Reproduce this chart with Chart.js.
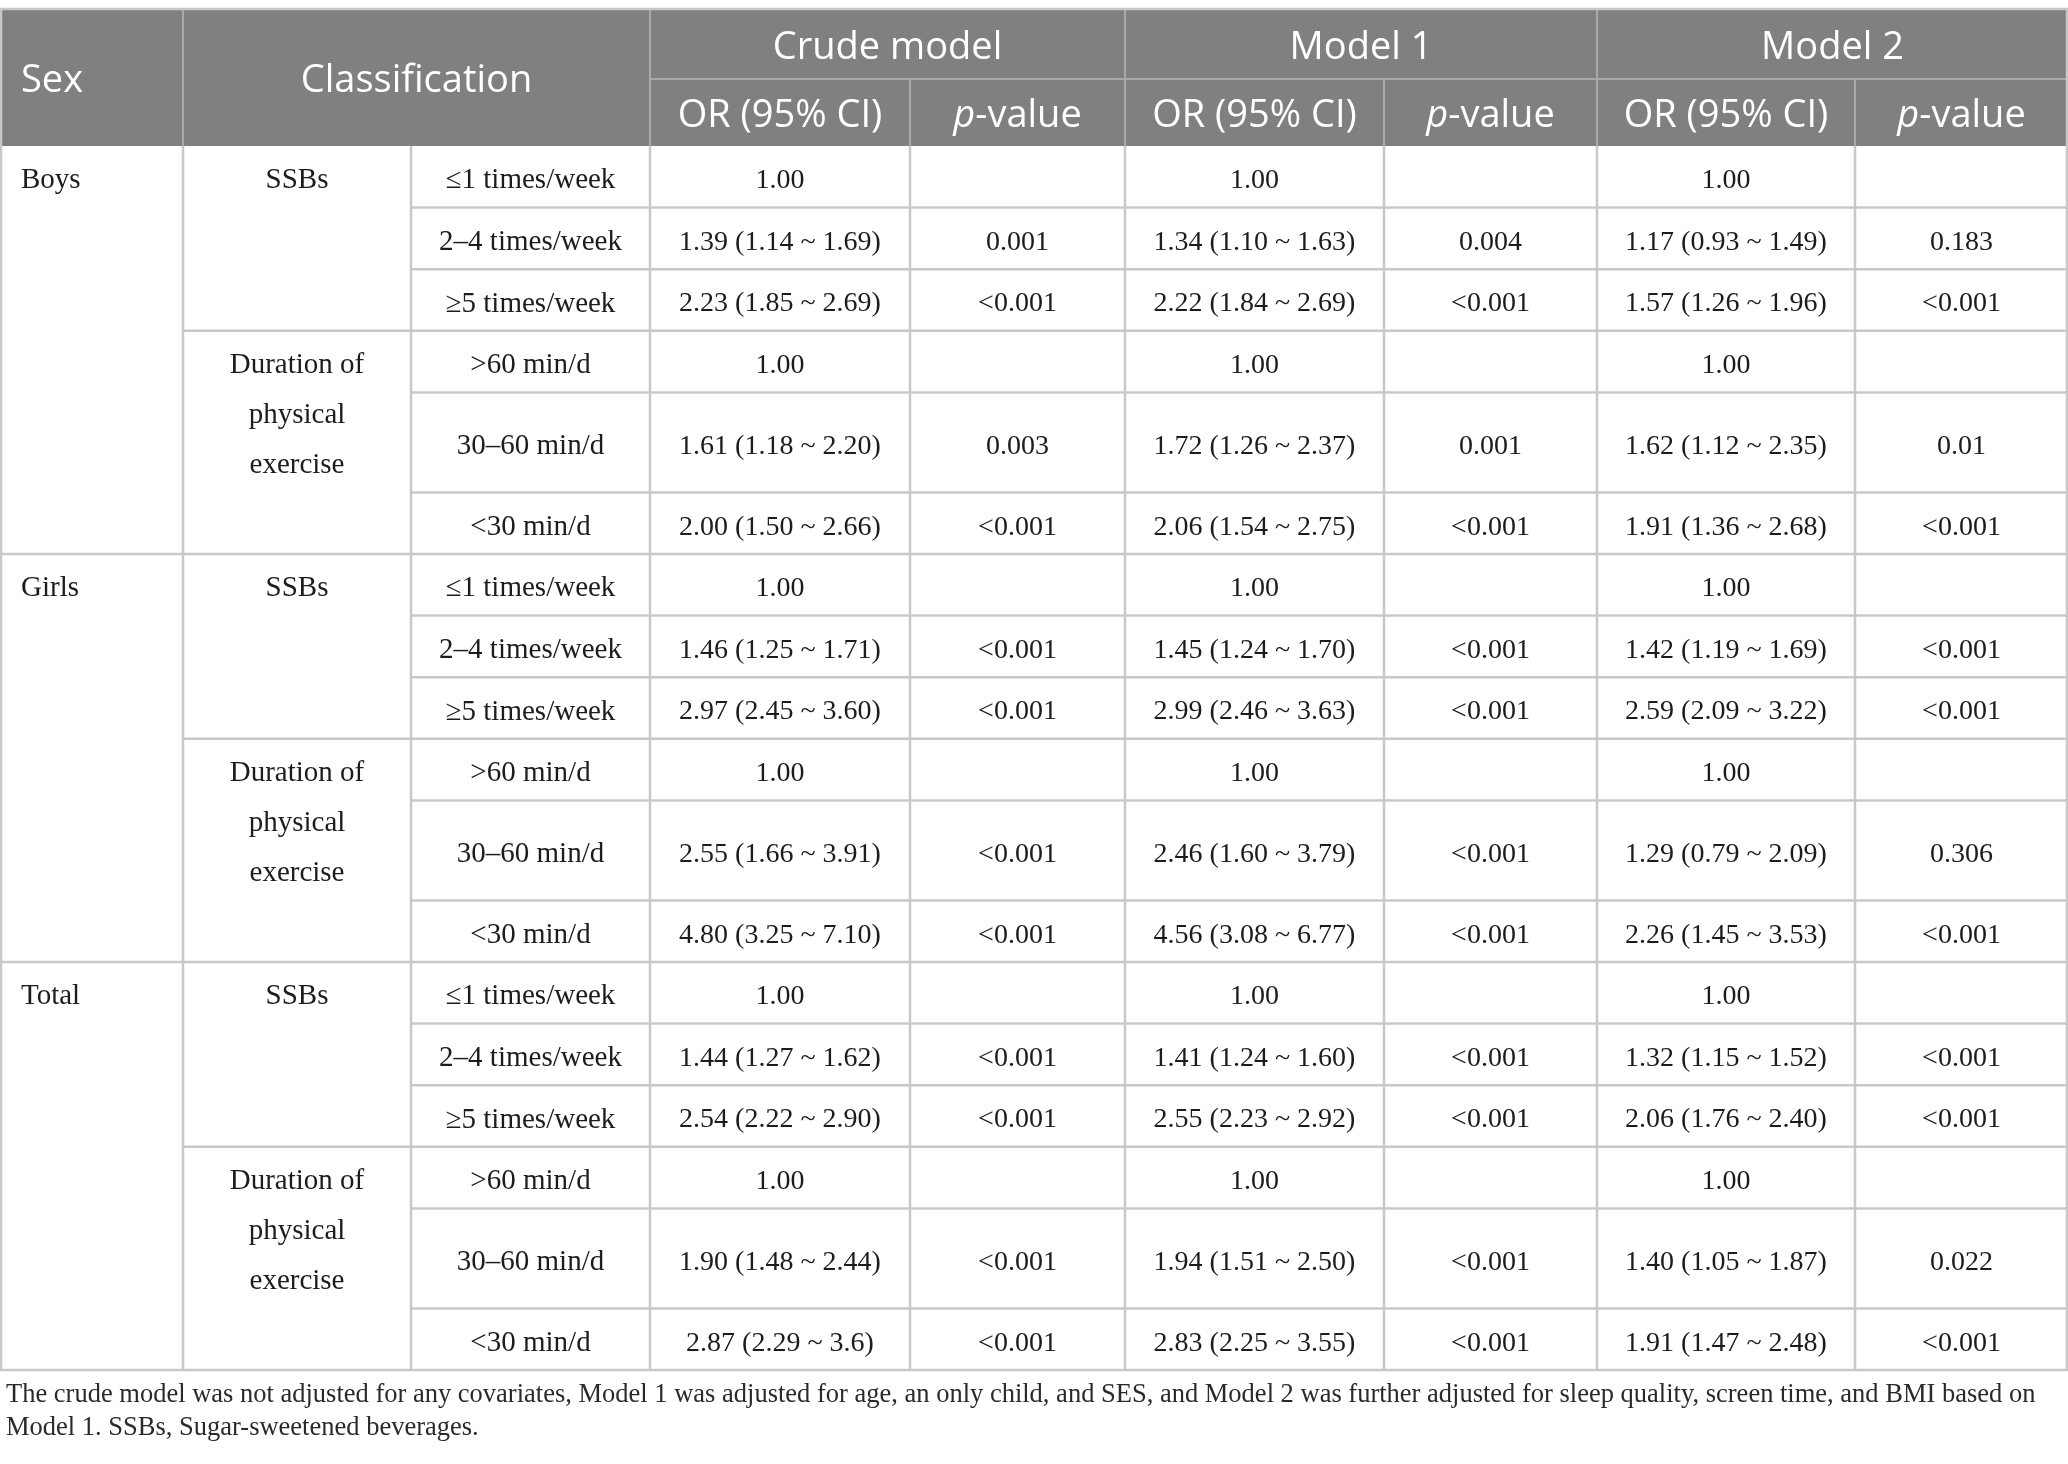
<!DOCTYPE html>
<html>
<head>
<meta charset="utf-8">
<script src="https://cdn.jsdelivr.net/npm/chart.js@4.4.1/dist/chart.umd.min.js"></script>
<style>
  html, body { margin: 0; padding: 0; background: #ffffff; }
  canvas { display: block; }
</style>
</head>
<body>
<canvas id="tableChart" width="2068" height="1464"></canvas>
<script>
// ---- data ----
const sexGroups = ["Boys", "Girls", "Total"];
const factorLabels = [["SSBs"], ["Duration of", "physical", "exercise"]];
const ssbLevels = ["≤1 times/week", "2–4 times/week", "≥5 times/week"];
const exerciseLevels = [">60 min/d", "30–60 min/d", "<30 min/d"];
const modelNames = ["Crude model", "Model 1", "Model 2"];

// one entry per body row (Boys x6, Girls x6, Total x6)
const crudeOR = [
  "1.00", "1.39 (1.14 ~ 1.69)", "2.23 (1.85 ~ 2.69)", "1.00", "1.61 (1.18 ~ 2.20)", "2.00 (1.50 ~ 2.66)",
  "1.00", "1.46 (1.25 ~ 1.71)", "2.97 (2.45 ~ 3.60)", "1.00", "2.55 (1.66 ~ 3.91)", "4.80 (3.25 ~ 7.10)",
  "1.00", "1.44 (1.27 ~ 1.62)", "2.54 (2.22 ~ 2.90)", "1.00", "1.90 (1.48 ~ 2.44)", "2.87 (2.29 ~ 3.6)"
];
const crudeP = [
  "", "0.001", "<0.001", "", "0.003", "<0.001",
  "", "<0.001", "<0.001", "", "<0.001", "<0.001",
  "", "<0.001", "<0.001", "", "<0.001", "<0.001"
];
const model1OR = [
  "1.00", "1.34 (1.10 ~ 1.63)", "2.22 (1.84 ~ 2.69)", "1.00", "1.72 (1.26 ~ 2.37)", "2.06 (1.54 ~ 2.75)",
  "1.00", "1.45 (1.24 ~ 1.70)", "2.99 (2.46 ~ 3.63)", "1.00", "2.46 (1.60 ~ 3.79)", "4.56 (3.08 ~ 6.77)",
  "1.00", "1.41 (1.24 ~ 1.60)", "2.55 (2.23 ~ 2.92)", "1.00", "1.94 (1.51 ~ 2.50)", "2.83 (2.25 ~ 3.55)"
];
const model1P = [
  "", "0.004", "<0.001", "", "0.001", "<0.001",
  "", "<0.001", "<0.001", "", "<0.001", "<0.001",
  "", "<0.001", "<0.001", "", "<0.001", "<0.001"
];
const model2OR = [
  "1.00", "1.17 (0.93 ~ 1.49)", "1.57 (1.26 ~ 1.96)", "1.00", "1.62 (1.12 ~ 2.35)", "1.91 (1.36 ~ 2.68)",
  "1.00", "1.42 (1.19 ~ 1.69)", "2.59 (2.09 ~ 3.22)", "1.00", "1.29 (0.79 ~ 2.09)", "2.26 (1.45 ~ 3.53)",
  "1.00", "1.32 (1.15 ~ 1.52)", "2.06 (1.76 ~ 2.40)", "1.00", "1.40 (1.05 ~ 1.87)", "1.91 (1.47 ~ 2.48)"
];
const model2P = [
  "", "0.183", "<0.001", "", "0.01", "<0.001",
  "", "<0.001", "<0.001", "", "0.306", "<0.001",
  "", "<0.001", "<0.001", "", "0.022", "<0.001"
];
const footnote = [
  "The crude model was not adjusted for any covariates, Model 1 was adjusted for age, an only child, and SES, and Model 2 was further adjusted for sleep quality, screen time, and BMI based on",
  "Model 1. SSBs, Sugar-sweetened beverages."
];

// ---- layout (chart units == pixels) ----
const W = 2068, H = 1464;
const COLS = [0, 183, 411, 650, 910, 1125, 1384, 1597, 1855, 2068];
const HEAD_TOP = 9, HEAD_MID = 79, HEAD_BOTTOM = 146;
const ROW_H = 61.6, TALL_H = 100, LINE_GAP = 50;
const HEAD_BG = "#7f807f", HEAD_LINE = "#a8a8a8", GRID = "#c8c8c8";
const TEXT = "#1c1c1c";
const HEAD_FONT = "38px 'Open Sans'";
const LABEL_FONT = "29px 'Liberation Serif'";
const VALUE_FONT = "28px 'Liberation Serif'";
const NOTE_FONT = "26.5px 'Liberation Serif'";
const HEAD_DY = 4, BODY_DY = 4;

// build row tops from the groups/levels
function buildRows() {
  let rows = [];
  let y = HEAD_BOTTOM;
  for (let g = 0; g < sexGroups.length; g++) {
    for (let f = 0; f < factorLabels.length; f++) {
      let levels = f === 0 ? ssbLevels : exerciseLevels;
      for (let l = 0; l < levels.length; l++) {
        let h = (f === 1 && l === 1) ? TALL_H : ROW_H;
        rows.push({ g: g, f: f, l: l, label: levels[l], top: y, bottom: y + h });
        y += h;
      }
    }
  }
  return rows;
}

const tablePlugin = {
  id: "tableDraw",
  afterDraw(chart) {
    const ctx = chart.ctx;
    const xs = chart.scales.x, ys = chart.scales.y;
    const px = v => xs.getPixelForValue(v);
    const py = v => ys.getPixelForValue(v);
    const rows = buildRows();
    const tableBottom = rows[rows.length - 1].bottom;

    function line(x1, y1, x2, y2, color, w) {
      ctx.strokeStyle = color;
      ctx.lineWidth = w;
      ctx.beginPath();
      ctx.moveTo(px(x1), py(y1));
      ctx.lineTo(px(x2), py(y2));
      ctx.stroke();
    }
    function text(str, x, y, font, color, align) {
      ctx.font = font;
      ctx.fillStyle = color;
      ctx.textAlign = align || "center";
      ctx.textBaseline = "middle";
      ctx.fillText(str, px(x), py(y));
    }
    function mid(a, b) { return (a + b) / 2; }

    ctx.save();

    // header background
    ctx.fillStyle = HEAD_BG;
    ctx.fillRect(px(0), py(HEAD_TOP), px(W) - px(0), py(HEAD_BOTTOM) - py(HEAD_TOP));

    // header lines
    [1, 3, 5, 7].forEach(c => line(COLS[c], HEAD_TOP, COLS[c], HEAD_BOTTOM, HEAD_LINE, 2));
    [4, 6, 8].forEach(c => line(COLS[c], HEAD_MID, COLS[c], HEAD_BOTTOM, HEAD_LINE, 2));
    line(COLS[3], HEAD_MID, W, HEAD_MID, HEAD_LINE, 2);

    // header text
    let hAll = mid(HEAD_TOP, HEAD_BOTTOM) + HEAD_DY;
    let hTop = mid(HEAD_TOP, HEAD_MID) + HEAD_DY;
    let hSub = mid(HEAD_MID, HEAD_BOTTOM) + HEAD_DY;
    text("Sex", 21, hAll, HEAD_FONT, "#ffffff", "left");
    text("Classification", mid(COLS[1], COLS[3]), hAll, HEAD_FONT, "#ffffff");
    for (let m = 0; m < modelNames.length; m++) {
      let c = 3 + m * 2;
      text(modelNames[m], mid(COLS[c], COLS[c + 2]), hTop, HEAD_FONT, "#ffffff");
      text("OR (95% CI)", mid(COLS[c], COLS[c + 1]), hSub, HEAD_FONT, "#ffffff");
      // "p-value" with italic p
      ctx.font = "italic " + HEAD_FONT;
      let wp = ctx.measureText("p").width;
      ctx.font = HEAD_FONT;
      let wr = ctx.measureText("-value").width;
      let cx = px(mid(COLS[c + 1], COLS[c + 2]));
      let left = xs.getValueForPixel(cx - (wp + wr) / 2);
      text("p", left, hSub, "italic " + HEAD_FONT, "#ffffff", "left");
      text("-value", xs.getValueForPixel(px(left) + wp), hSub, HEAD_FONT, "#ffffff", "left");
    }

    // body grid
    rows.forEach((r, i) => {
      if (i === 0) return;
      let x0 = COLS[2];
      if (r.l === 0) x0 = COLS[1];
      if (r.l === 0 && r.f === 0) x0 = 0;
      line(x0, r.top, W, r.top, GRID, 2.5);
    });
    for (let c = 1; c < COLS.length - 1; c++) {
      line(COLS[c], HEAD_BOTTOM, COLS[c], tableBottom, GRID, 2.5);
    }
    // outer border
    line(0, HEAD_TOP, W, HEAD_TOP, GRID, 2.5);
    line(0, tableBottom, W, tableBottom, GRID, 2.5);
    line(1, HEAD_TOP, 1, tableBottom, GRID, 2.5);
    line(W - 1, HEAD_TOP, W - 1, tableBottom, GRID, 2.5);

    // body text
    const valueCols = [crudeOR, crudeP, model1OR, model1P, model2OR, model2P];
    rows.forEach((r, i) => {
      let cy = mid(r.top, r.bottom) + BODY_DY;
      if (r.f === 0 && r.l === 0) {
        text(sexGroups[r.g], 21, cy, LABEL_FONT, TEXT, "left");
      }
      if (r.l === 0) {
        let lines = factorLabels[r.f];
        for (let k = 0; k < lines.length; k++) {
          text(lines[k], mid(COLS[1], COLS[2]), cy + k * LINE_GAP, LABEL_FONT, TEXT);
        }
      }
      text(r.label, mid(COLS[2], COLS[3]), cy, LABEL_FONT, TEXT);
      for (let v = 0; v < valueCols.length; v++) {
        let s = valueCols[v][i];
        if (s) text(s, mid(COLS[3 + v], COLS[4 + v]), cy, VALUE_FONT, TEXT);
      }
    });

    // footnote
    for (let k = 0; k < footnote.length; k++) {
      text(footnote[k], 6, tableBottom + 25 + k * 33, NOTE_FONT, "#2a2a2a", "left");
    }

    ctx.restore();
  }
};

new Chart(document.getElementById("tableChart").getContext("2d"), {
  type: "scatter",
  data: { datasets: [] },
  options: {
    responsive: false,
    animation: false,
    devicePixelRatio: 1,
    layout: { padding: 0 },
    plugins: {
      legend: { display: false },
      tooltip: { enabled: false }
    },
    scales: {
      x: { type: "linear", min: 0, max: W, display: false },
      y: { type: "linear", min: 0, max: H, reverse: true, display: false }
    }
  },
  plugins: [tablePlugin]
});
</script>
</body>
</html>
